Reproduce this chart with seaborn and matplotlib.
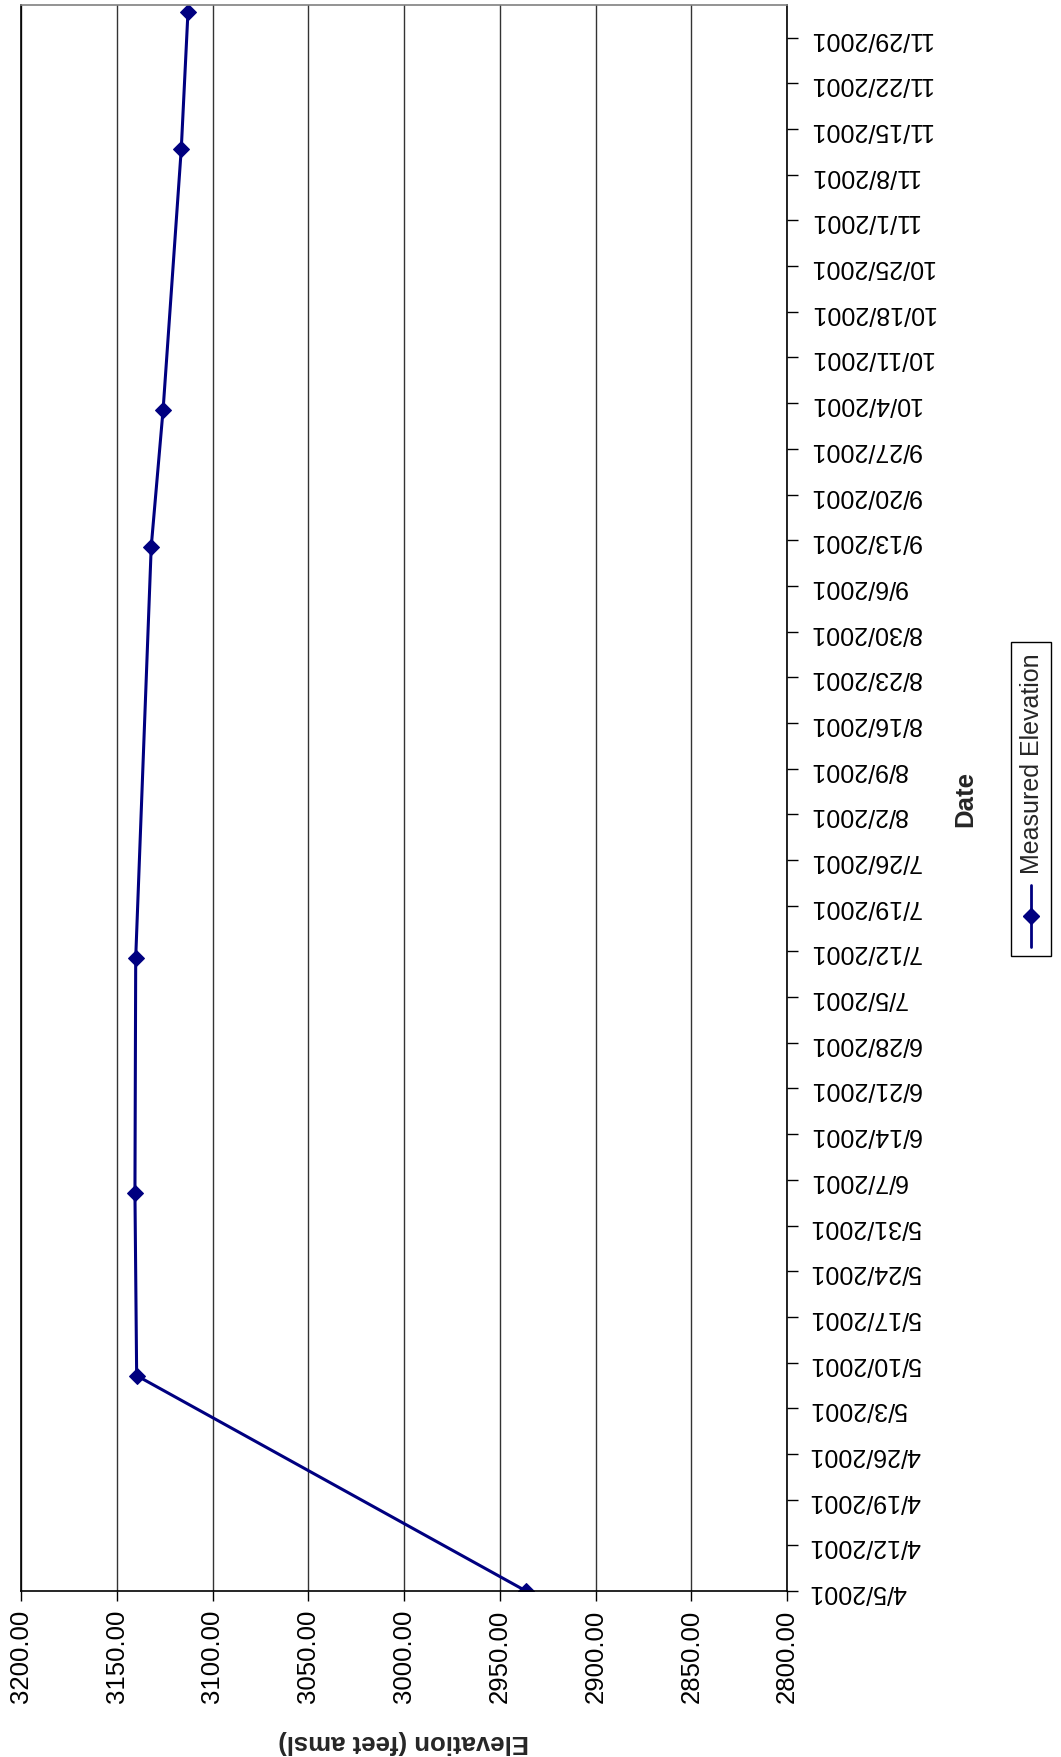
import numpy as np
import pandas as pd
import matplotlib
matplotlib.use("Agg")
import matplotlib.pyplot as plt
import matplotlib.dates as mdates
from matplotlib.lines import Line2D
from matplotlib.patches import Rectangle
import seaborn as sns

# ---- data ----
dates = ["2001-04-05", "2001-05-08", "2001-06-05", "2001-07-11",
         "2001-09-12", "2001-10-03", "2001-11-12", "2001-12-03"]
elevation = [2936.3, 3139.6, 3140.5, 3140.1, 3132.0, 3125.8, 3116.3, 3112.8]
elev_ticks = [3200, 3150, 3100, 3050, 3000, 2950, 2900, 2850, 2800]
date_tick_start = "2001-04-05"
date_tick_end = "2001-11-29"
series_name = "Measured Elevation"
x_title = "Elevation (feet amsl)"
y_title = "Date"

df = pd.DataFrame({"date": pd.to_datetime(dates), "elev": elevation})
tick_dates = pd.date_range(date_tick_start, date_tick_end, freq="7D")
tick_labels = [f"{d.month}/{d.day}/{d.year}" for d in tick_dates]

sns.set_style("white")
plt.rcParams["font.family"] = ["Liberation Sans", "DejaVu Sans"]

W, H = 1061, 1758
fig = plt.figure(figsize=(W / 100, H / 100), dpi=100)
L, R, T, B = 21, 787, 6, 1592
ax = fig.add_axes([L / W, (H - B) / H, (R - L) / W, (B - T) / H])

navy = "#000080"
sns.lineplot(data=df, x="elev", y="date", orient="y", sort=False,
             estimator=None, ax=ax, color=navy, linewidth=2.2,
             marker="D", markersize=8.5, markeredgecolor=navy,
             markerfacecolor=navy, legend=False)

ax.set_xlim(3200, 2800)
ax.set_ylim(pd.Timestamp("2001-04-05"), pd.Timestamp("2001-12-04"))

ax.set_xticks(elev_ticks)
ax.set_xticklabels([f"{v:.2f}" for v in elev_ticks], rotation=90)
ax.set_yticks(tick_dates)
ax.set_yticklabels(tick_labels, rotation=180)

ax.yaxis.tick_right()
ax.yaxis.set_label_position("right")
ax.tick_params(axis="x", direction="out", length=7, width=1, pad=6,
               labelsize=18.5, colors="black", bottom=True)
ax.tick_params(axis="y", direction="out", length=8, width=1, pad=8,
               labelsize=18, colors="black", right=True, left=False)
for lab in ax.get_yticklabels():
    lab.set_verticalalignment("center")

ax.grid(False)
ax.xaxis.grid(True, color="#333333", linewidth=1)
ax.set_axisbelow(True)

ax.spines["top"].set_color("#808080")
ax.spines["top"].set_linewidth(1.2)
for s in ["left", "right", "bottom"]:
    ax.spines[s].set_color("black")
    ax.spines[s].set_linewidth(1.2)

ax.set_xlabel(x_title, fontsize=18.5, fontweight="bold", rotation=180)
ax.xaxis.set_label_coords(0.5, (B - 1742) / (B - T))
ax.xaxis.label.set_verticalalignment("center")
ax.xaxis.label.set_horizontalalignment("center")

ax.set_ylabel(y_title, fontsize=18.5, fontweight="bold", rotation=90)
ax.yaxis.set_label_coords((965 - L) / (R - L), 0.5)
ax.yaxis.label.set_verticalalignment("center")
ax.yaxis.label.set_horizontalalignment("center")

# ---- legend (rotated) ----
bx0, bx1, by0, by1 = 1011, 1051, 643, 957
fig.add_artist(Rectangle((bx0 / W, (H - by1) / H), (bx1 - bx0) / W,
                         (by1 - by0) / H, transform=fig.transFigure,
                         facecolor="white", edgecolor="black", linewidth=1))
fig.add_artist(Line2D([1031 / W, 1031 / W], [(H - 948) / H, (H - 886) / H],
                      transform=fig.transFigure, color=navy, linewidth=2))
fig.add_artist(Line2D([1031 / W], [(H - 917) / H], transform=fig.transFigure,
                      color=navy, marker="D", markersize=8.5, linestyle="none"))
fig.text(1032 / W, (H - 764) / H, series_name, rotation=90, fontsize=18,
         ha="center", va="center")

fig.savefig("out.png", dpi=100)
